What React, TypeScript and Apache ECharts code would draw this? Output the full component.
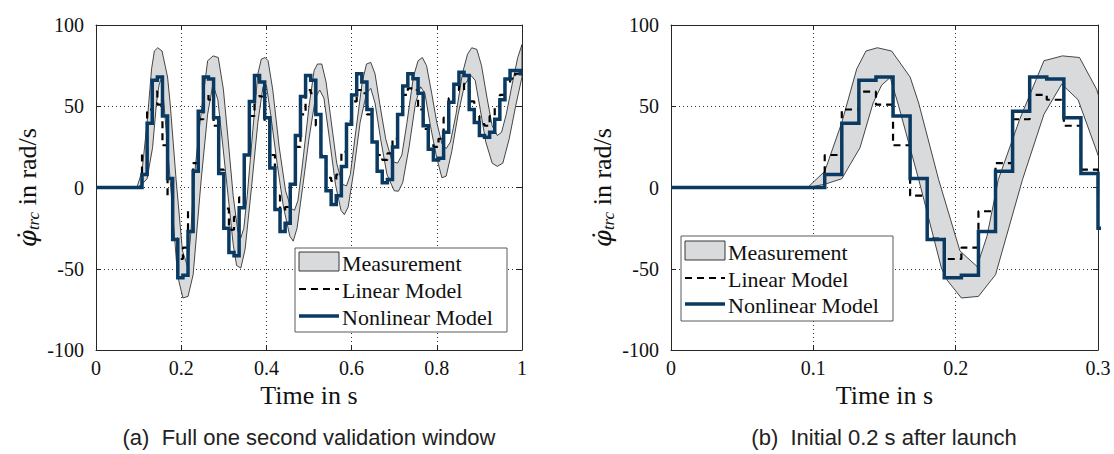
import React, { useEffect, useRef } from 'react';
import * as echarts from 'echarts';

// Zero-order-hold sample instants (s)
const stepTimes = [
  0.108, 0.12, 0.132, 0.144, 0.156, 0.168, 0.18, 0.192, 0.204, 0.216,
  0.228, 0.24, 0.252, 0.264, 0.276, 0.288, 0.3, 0.312, 0.324, 0.336,
  0.348, 0.36, 0.372, 0.384, 0.396, 0.408, 0.42, 0.432, 0.444, 0.456,
  0.468, 0.48, 0.492, 0.504, 0.516, 0.528, 0.54, 0.552, 0.564, 0.576,
  0.588, 0.6, 0.612, 0.624, 0.636, 0.648, 0.66, 0.672, 0.684, 0.696,
  0.708, 0.72, 0.732, 0.744, 0.756, 0.768, 0.78, 0.792, 0.804, 0.816,
  0.828, 0.84, 0.852, 0.864, 0.876, 0.888, 0.9, 0.912, 0.924, 0.936,
  0.948, 0.96, 0.972, 0.984, 0.996,
];

// Nonlinear model output (rad/s)
const nonlinearModel = [
  8, 39.5, 66, 68, 44, 5.5, -32, -55.5, -54, -27,
  10, 47, 68, 66.7, 43, 8.6, -25, -40, -42, -12.5,
  20, 53, 69, 65, 43, 12, -13.5, -27, -22, 2,
  32, 56, 69, 66, 45, 19, -2, -10.5, -5, 13,
  39, 57, 70, 65, 48, 28, 10, 3, 5, 25,
  45, 62.5, 70, 67, 58, 38, 23.5, 17, 18, 34,
  52.5, 63.5, 71, 69, 48, 40, 32, 31, 34, 42,
  54, 66.7, 72, 72, 70,
];

// Linear model output (rad/s)
const linearModel = [
  20, 48, 59, 51, 26, -5, -31.5, -44, -37, -14.6,
  15, 42, 57, 54, 38, 11, -13, -26, -18, -6,
  20, 44, 58, 56, 40, 20, -5, -15, -12, 2,
  25, 45, 60, 58, 38, 20, 6, 4, 8, 22,
  41, 53, 60, 58, 45, 28, 20, 17, 21, 30,
  45, 57, 61, 60, 48, 36, 27, 25, 30, 43,
  55, 60, 64, 60, 53, 44, 39, 38, 44, 50,
  57, 64, 67, 70, 72,
];

// Measurement band, upper envelope [t, value]
const measUpper = [
  [0, 0], [0.096, 0], [0.108, 10], [0.12, 40], [0.1305, 73], [0.137, 84], [0.145, 86], [0.155, 84],
  [0.168, 68], [0.174, 52], [0.188, 5], [0.203, -39], [0.215, -48.6], [0.222, -30], [0.23, 5],
  [0.245, 42], [0.262, 78], [0.275, 81], [0.287, 80], [0.299, 60.5], [0.31, 30], [0.322, -5],
  [0.333, -27], [0.34, -31], [0.347, -25], [0.355, -5], [0.368, 35], [0.38, 70], [0.388, 79],
  [0.397, 80], [0.404, 78], [0.415, 60], [0.43, 25], [0.445, -2], [0.458, -13], [0.466, -14],
  [0.474, -8], [0.485, 15], [0.5, 50], [0.512, 72], [0.52, 76], [0.53, 76], [0.54, 65],
  [0.55, 45], [0.565, 15], [0.578, 2], [0.588, 1], [0.597, 8], [0.61, 35], [0.625, 65],
  [0.635, 76], [0.645, 77], [0.655, 70], [0.667, 50], [0.68, 30], [0.695, 16], [0.708, 15],
  [0.718, 20], [0.73, 40], [0.745, 68], [0.756, 78], [0.766, 80], [0.776, 75], [0.788, 58],
  [0.8, 40], [0.812, 27], [0.822, 24], [0.832, 28], [0.845, 45], [0.86, 70], [0.872, 82],
  [0.882, 86], [0.894, 85], [0.905, 75], [0.918, 55], [0.93, 38], [0.942, 32], [0.952, 34],
  [0.963, 45], [0.978, 65], [0.99, 80], [1.0, 88],
];

// Measurement band, lower envelope [t, value]
const measLower = [
  [0, 0], [0.096, 0], [0.108, 2], [0.12, 5.4], [0.1328, 24.5], [0.142, 52], [0.148, 63], [0.154, 67.7],
  [0.16, 50], [0.174, 5], [0.19, -49.6], [0.194, -57], [0.204, -68], [0.216, -67], [0.228, -53.7],
  [0.247, 5], [0.262, 45], [0.2745, 63.6], [0.286, 54], [0.298, 25], [0.31, -5], [0.322, -35],
  [0.33, -48], [0.34, -49.6], [0.35, -38], [0.365, 0], [0.38, 40], [0.392, 62], [0.4, 63],
  [0.41, 45], [0.425, 15], [0.44, -12], [0.455, -30], [0.463, -33], [0.472, -25], [0.485, 0],
  [0.5, 30], [0.515, 55], [0.525, 60], [0.535, 55], [0.548, 30], [0.562, 2], [0.575, -14],
  [0.583, -16.7], [0.592, -12], [0.605, 10], [0.62, 40], [0.635, 58], [0.645, 61], [0.655, 52],
  [0.668, 30], [0.683, 8], [0.7, -2], [0.71, -2.3], [0.72, 3], [0.735, 25], [0.75, 52],
  [0.762, 62], [0.772, 58], [0.785, 38], [0.8, 18], [0.812, 6], [0.822, 7], [0.835, 22],
  [0.85, 45], [0.865, 63], [0.88, 69], [0.89, 66], [0.902, 48], [0.915, 28], [0.93, 15],
  [0.942, 13], [0.955, 15], [0.97, 30], [0.985, 50], [1.0, 68],
];

const yTicks = { min: -100, max: 100, interval: 50 };
const panelXMax = [1, 0.3];
const panelXInterval = [0.2, 0.1];
const legendNames = ['Measurement', 'Linear Model', 'Nonlinear Model'];
const captions = ['(a)  Full one second validation window', '(b)  Initial 0.2 s after launch'];

const SERIF = "'Liberation Serif', 'DejaVu Serif', serif";
const SANS = "'Liberation Sans', 'DejaVu Sans', sans-serif";
const AX = '#262626';
const NAVY = '#0a3a62';
const FILL = '#d9dadc';

function buildStepData(vals: number[]) {
  const d: number[][] = [[0, 0]];
  stepTimes.forEach((t, i) => d.push([t, vals[i]]));
  d.push([1.0, vals[vals.length - 1]]);
  return d;
}

function legendGraphic(x: number, y: number, w: number, h: number, rows: number[]) {
  const sx0 = x + 4;
  const sx1 = x + 44;
  const tx = x + 47;
  return [
    { type: 'rect', z: 100, shape: { x, y, width: w, height: h }, style: { fill: '#fff', stroke: '#5a5a5a', lineWidth: 1 } },
    { type: 'rect', z: 101, shape: { x: sx0, y: rows[0] - 10, width: 40, height: 19 }, style: { fill: FILL, stroke: '#222', lineWidth: 0.9 } },
    { type: 'line', z: 101, shape: { x1: sx0, y1: rows[1], x2: sx1, y2: rows[1] }, style: { stroke: '#000', lineWidth: 2.2, lineDash: [7, 5] } },
    { type: 'line', z: 101, shape: { x1: sx0, y1: rows[2], x2: sx1, y2: rows[2] }, style: { stroke: NAVY, lineWidth: 3.5 } },
    ...legendNames.map((n, i) => ({
      type: 'text', z: 101, x: tx, y: rows[i] + 1,
      style: { text: n, font: `22px ${SERIF}`, fill: '#111', verticalAlign: 'middle', align: 'left' },
    })),
  ];
}

export default function App() {
  const ref = useRef<HTMLDivElement>(null);
  useEffect(() => {
    if (!ref.current) return;
    const chart = echarts.init(ref.current, undefined, { renderer: 'svg' });

    const grids = [
      { left: 96, top: 25, width: 426, height: 325 },
      { left: 671, top: 25, width: 427, height: 325 },
    ];

    const xAxis: any[] = [];
    const yAxis: any[] = [];
    grids.forEach((_, g) => {
      xAxis.push({
        type: 'value', gridIndex: g, min: 0, max: panelXMax[g], interval: panelXInterval[g], position: 'bottom',
        name: 'Time in s', nameLocation: 'middle', nameGap: 27,
        nameTextStyle: { fontFamily: SERIF, fontSize: 26, color: '#111' },
        axisLine: { show: true, onZero: false, lineStyle: { color: AX, width: 1 } },
        axisTick: { show: true, inside: true, length: 5, lineStyle: { color: AX } },
        axisLabel: { fontFamily: SERIF, fontSize: 20, color: '#111', margin: 8 },
        splitLine: { show: true, lineStyle: { color: '#333', type: [1, 3], width: 1 } },
      });
      xAxis.push({
        type: 'value', gridIndex: g, min: 0, max: panelXMax[g], interval: panelXInterval[g], position: 'top',
        axisLine: { show: true, onZero: false, lineStyle: { color: AX, width: 1 } },
        axisTick: { show: true, inside: true, length: 5, lineStyle: { color: AX } },
        axisLabel: { show: false }, splitLine: { show: false },
      });
      yAxis.push({
        type: 'value', gridIndex: g, ...yTicks, position: 'left',
        name: '{a|φ̇}{b|trc}{c| in rad/s}', nameLocation: 'middle', nameGap: 54, nameRotate: 90,
        nameTextStyle: {
          color: '#111',
          rich: {
            a: { fontFamily: "'DejaVu Serif', serif", fontSize: 24, fontStyle: 'italic', color: '#111' },
            b: { fontFamily: SERIF, fontSize: 17, fontStyle: 'italic', color: '#111', verticalAlign: 'bottom', padding: [12, 0, 0, 0] },
            c: { fontFamily: SERIF, fontSize: 26, color: '#111' },
          },
        },
        axisLine: { show: true, onZero: false, lineStyle: { color: AX, width: 1 } },
        axisTick: { show: true, inside: true, length: 5, lineStyle: { color: AX } },
        axisLabel: { fontFamily: SERIF, fontSize: 20, color: '#111', margin: 12 },
        splitLine: { show: true, lineStyle: { color: '#333', type: [1, 3], width: 1 } },
      });
      yAxis.push({
        type: 'value', gridIndex: g, ...yTicks, position: 'right',
        axisLine: { show: true, onZero: false, lineStyle: { color: AX, width: 1 } },
        axisTick: { show: true, inside: true, length: 5, lineStyle: { color: AX } },
        axisLabel: { show: false }, splitLine: { show: false },
      });
    });

    const series: any[] = [];
    grids.forEach((_, g) => {
      const xi = g * 2;
      const yi = g * 2;
      series.push({
        type: 'custom', name: legendNames[0], xAxisIndex: xi, yAxisIndex: yi, clip: true, silent: true, z: 1,
        data: [[0, 0]],
        renderItem: (params: any, api: any) => {
          const pts = measUpper.map((p) => api.coord(p)).concat(
            measLower.slice().reverse().map((p) => api.coord(p))
          );
          const cs = params.coordSys;
          return {
            type: 'group',
            clipPath: { type: 'rect', shape: { x: cs.x, y: cs.y, width: cs.width, height: cs.height } },
            children: [
              { type: 'polygon', shape: { points: pts }, style: { fill: FILL, stroke: '#1a1a1a', lineWidth: 0.8 } },
            ],
          };
        },
      });
      series.push({
        type: 'line', name: legendNames[1], xAxisIndex: xi, yAxisIndex: yi, step: 'end', symbol: 'none', z: 2,
        data: buildStepData(linearModel), clip: true,
        lineStyle: { color: '#000', width: 2.2, type: [7, 5] },
      });
      series.push({
        type: 'line', name: legendNames[2], xAxisIndex: xi, yAxisIndex: yi, step: 'end', symbol: 'none', z: 3,
        data: buildStepData(nonlinearModel), clip: true,
        lineStyle: { color: NAVY, width: 3.5, join: 'miter' },
      });
    });

    const graphic: any[] = [
      ...legendGraphic(295, 248, 212, 84, [262, 289, 316]),
      ...legendGraphic(681, 236, 212, 85, [251, 278, 304]),
      { type: 'text', z: 100, x: 309, y: 437, style: { text: captions[0], font: `22px ${SANS}`, fill: '#222', align: 'center', verticalAlign: 'middle' } },
      { type: 'text', z: 100, x: 884, y: 437, style: { text: captions[1], font: `22px ${SANS}`, fill: '#222', align: 'center', verticalAlign: 'middle' } },
    ];

    chart.setOption({
      animation: false,
      backgroundColor: '#fff',
      grid: grids,
      xAxis,
      yAxis,
      series,
      graphic,
    });
    return () => chart.dispose();
  }, []);
  return <div ref={ref} style={{ position: 'absolute', left: 0, top: 0, width: 1114, height: 454 }} />;
}
